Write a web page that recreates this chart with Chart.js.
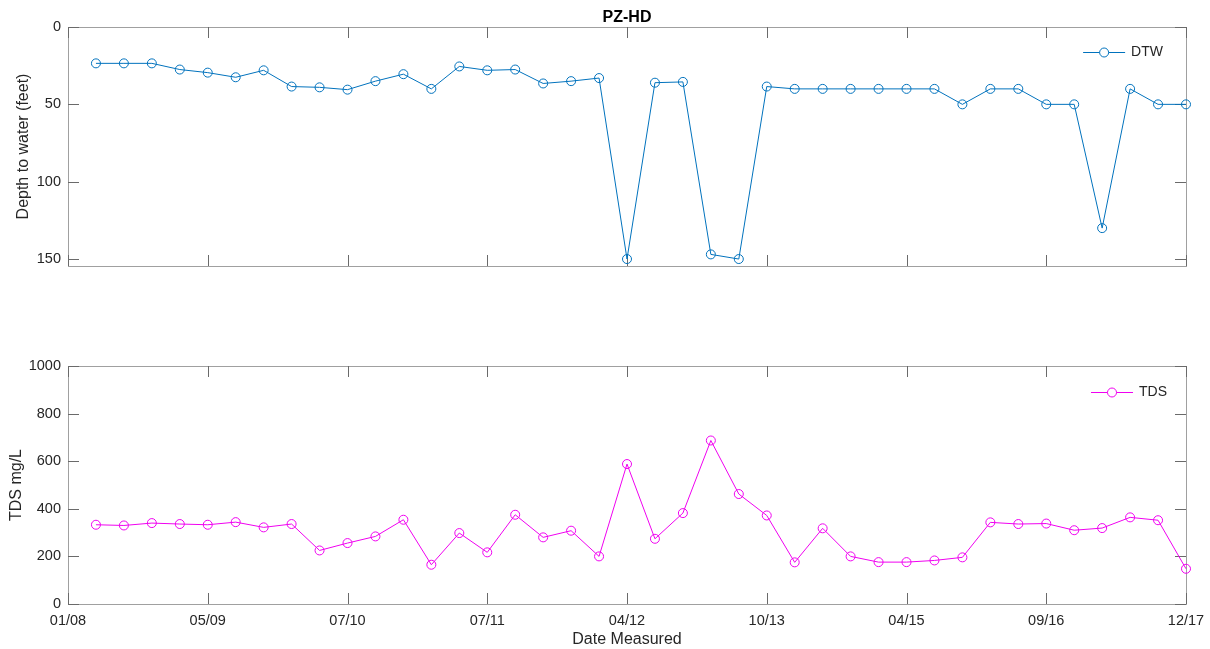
<!DOCTYPE html>
<html>
<head>
<meta charset="utf-8">
<script src="https://cdn.jsdelivr.net/npm/chart.js@4.4.1/dist/chart.umd.min.js"></script>
<style>
  html, body { margin: 0; padding: 0; background: #fff; }
  #wrap { position: relative; width: 1210px; height: 649px; overflow: hidden; }
  canvas { position: absolute; left: 0; }
</style>
</head>
<body>
<div id="wrap">
  <canvas id="dtwChart" width="1210" height="300" style="top:0"></canvas>
  <canvas id="tdsChart" width="1210" height="349" style="top:300px"></canvas>
</div>
<script>
// Well PZ-HD: depth to water and total dissolved solids per sampling event
const chartTitle = 'PZ-HD';
const dateTickPositions = [0, 5, 10, 15, 20, 25, 30, 35, 40];
const dateTickLabels = ['01/08', '05/09', '07/10', '07/11', '04/12', '10/13', '04/15', '09/16', '12/17'];
const sampleIndex = [1, 2, 3, 4, 5, 6, 7, 8, 9, 10, 11, 12, 13, 14, 15, 16, 17, 18, 19, 20,
                     21, 22, 23, 24, 25, 26, 27, 28, 29, 30, 31, 32, 33, 34, 35, 36, 37, 38, 39, 40];
const dtwFeet = [23.5, 23.5, 23.5, 27.5, 29.5, 32.5, 28, 38.5, 39, 40.5,
                 35, 30.5, 40, 25.5, 28, 27.5, 36.5, 35, 33, 150,
                 36, 35.5, 147, 150, 38.5, 40, 40, 40, 40, 40,
                 40, 50, 40, 40, 50, 50, 130, 40, 50, 50];
const tdsMgL = [333, 330, 340, 336, 333, 344, 322, 336, 225, 256,
                284, 354, 165, 298, 217, 375, 280, 308, 200, 588,
                274, 382, 687, 462, 372, 175, 318, 200, 176, 176,
                183, 196, 343, 336, 338, 310, 319, 364, 352, 148];
const dtwTicks = [0, 50, 100, 150];
const tdsTicks = [0, 200, 400, 600, 800, 1000];

const FONT = '"Liberation Sans", Arial, Helvetica, sans-serif';
const TEXT = '#262626';
const BLUE = '#0072BD';
const MAGENTA = '#F000F0';

const toPoints = vals => vals.map((v, i) => ({ x: sampleIndex[i], y: v }));

// Box around the plot area with inward ticks on all four sides
const axesBox = {
  id: 'axesBox',
  beforeDatasetsDraw(chart) {
    const { ctx, chartArea: a, scales: { x, y } } = chart;
    const len = 11;
    ctx.save();
    ctx.lineWidth = 1;
    ctx.strokeStyle = '#a0a0a0';
    ctx.strokeRect(a.left + 0.5, a.top + 0.5, a.right - a.left, a.bottom - a.top);
    ctx.strokeStyle = '#6a6a6a';
    ctx.beginPath();
    x.ticks.forEach(t => {
      const px = Math.round(x.getPixelForValue(t.value)) + 0.5;
      ctx.moveTo(px, a.bottom); ctx.lineTo(px, a.bottom - len);
      ctx.moveTo(px, a.top); ctx.lineTo(px, a.top + len);
    });
    y.ticks.forEach(t => {
      const py = Math.round(y.getPixelForValue(t.value)) + 0.5;
      ctx.moveTo(a.left, py); ctx.lineTo(a.left + len, py);
      ctx.moveTo(a.right, py); ctx.lineTo(a.right - len, py);
    });
    ctx.stroke();
    ctx.restore();
  }
};

// Line-and-marker legend in the upper right corner of the plot area
const cornerLegend = {
  id: 'cornerLegend',
  afterDraw(chart, args, opts) {
    const { ctx, chartArea: a } = chart;
    const ds = chart.data.datasets[0];
    ctx.save();
    ctx.font = '14px ' + FONT;
    ctx.textBaseline = 'middle';
    ctx.textAlign = 'right';
    ctx.fillStyle = TEXT;
    const textRight = a.right - opts.right;
    const yy = a.top + opts.top;
    ctx.fillText(ds.label, textRight, yy);
    const textLeft = textRight - ctx.measureText(ds.label).width;
    const lineEnd = textLeft - 6;
    const lineStart = lineEnd - 42;
    ctx.strokeStyle = ds.borderColor;
    ctx.lineWidth = 1;
    ctx.beginPath();
    ctx.moveTo(lineStart, yy + 0.5); ctx.lineTo(lineEnd, yy + 0.5);
    ctx.stroke();
    ctx.beginPath();
    ctx.arc((lineStart + lineEnd) / 2, yy + 0.5, 4.5, 0, Math.PI * 2);
    ctx.fillStyle = '#fff';
    ctx.fill();
    ctx.stroke();
    ctx.restore();
  }
};

// Figure title centred over the plot area
const figureTitle = {
  id: 'figureTitle',
  afterDraw(chart, args, opts) {
    if (!opts.text) return;
    const { ctx, chartArea: a } = chart;
    ctx.save();
    ctx.font = 'bold 16px ' + FONT;
    ctx.fillStyle = '#000';
    ctx.textAlign = 'center';
    ctx.textBaseline = 'middle';
    ctx.fillText(opts.text, (a.left + a.right) / 2, 18);
    ctx.restore();
  }
};

function lineDataset(label, values, color) {
  return {
    label,
    data: toPoints(values),
    borderColor: color,
    backgroundColor: 'rgba(0,0,0,0)',
    borderWidth: 1,
    pointStyle: 'circle',
    pointRadius: 4.5,
    pointBorderWidth: 1,
    pointBackgroundColor: 'rgba(0,0,0,0)',
    pointBorderColor: color,
    tension: 0,
    clip: false
  };
}

function xScale(showLabels, height) {
  return {
    type: 'linear',
    min: 0,
    max: 40,
    afterBuildTicks: s => { s.ticks = dateTickPositions.map(v => ({ value: v })); },
    afterFit: s => { s.height = height; s.paddingLeft = 0; s.paddingRight = 0; },
    grid: { display: false, drawTicks: false },
    border: { display: false },
    ticks: {
      display: showLabels,
      padding: 8,
      color: TEXT,
      font: { family: FONT, size: 14.5 },
      maxRotation: 0,
      autoSkip: false,
      callback: v => dateTickLabels[dateTickPositions.indexOf(v)]
    },
    title: showLabels ? {
      display: true,
      text: 'Date Measured',
      color: TEXT,
      font: { family: FONT, size: 16 },
      padding: { top: 0, bottom: 0 }
    } : { display: false }
  };
}

function yScale(opts) {
  return {
    type: 'linear',
    min: opts.min,
    max: opts.max,
    reverse: !!opts.reverse,
    afterBuildTicks: s => { s.ticks = opts.ticks.map(v => ({ value: v })); },
    afterFit: s => { s.width = 68; s.paddingTop = 0; s.paddingBottom = 0; },
    grid: { display: false, drawTicks: false },
    border: { display: false },
    ticks: { padding: 7, color: TEXT, font: { family: FONT, size: 14.5 }, callback: v => String(v) },
    title: {
      display: true,
      text: opts.title,
      color: TEXT,
      font: { family: FONT, size: 16 },
      padding: { top: opts.titlePad, bottom: 0 }
    }
  };
}

const common = {
  responsive: false,
  devicePixelRatio: 1,
  animation: false,
  events: [],
  plugins: { legend: { display: false }, title: { display: false }, tooltip: { enabled: false } }
};

new Chart(document.getElementById('dtwChart'), {
  type: 'line',
  data: { datasets: [lineDataset('DTW', dtwFeet, BLUE)] },
  plugins: [axesBox, cornerLegend, figureTitle],
  options: {
    ...common,
    layout: { padding: { left: 0, right: 24, top: 27, bottom: 0 } },
    plugins: {
      ...common.plugins,
      cornerLegend: { right: 23, top: 25 },
      figureTitle: { text: chartTitle }
    },
    scales: {
      x: xScale(false, 34),
      y: yScale({ min: 0, max: 154.5, reverse: true, ticks: dtwTicks, title: 'Depth to water (feet)', titlePad: 14 })
    }
  }
});

new Chart(document.getElementById('tdsChart'), {
  type: 'line',
  data: { datasets: [lineDataset('TDS', tdsMgL, MAGENTA)] },
  plugins: [axesBox, cornerLegend, figureTitle],
  options: {
    ...common,
    layout: { padding: { left: 0, right: 24, top: 66, bottom: 0 } },
    plugins: {
      ...common.plugins,
      cornerLegend: { right: 19, top: 26 },
      figureTitle: { text: '' }
    },
    scales: {
      x: xScale(true, 45),
      y: yScale({ min: 0, max: 1000, ticks: tdsTicks, title: 'TDS mg/L', titlePad: 6.5 })
    }
  }
});
</script>
</body>
</html>
